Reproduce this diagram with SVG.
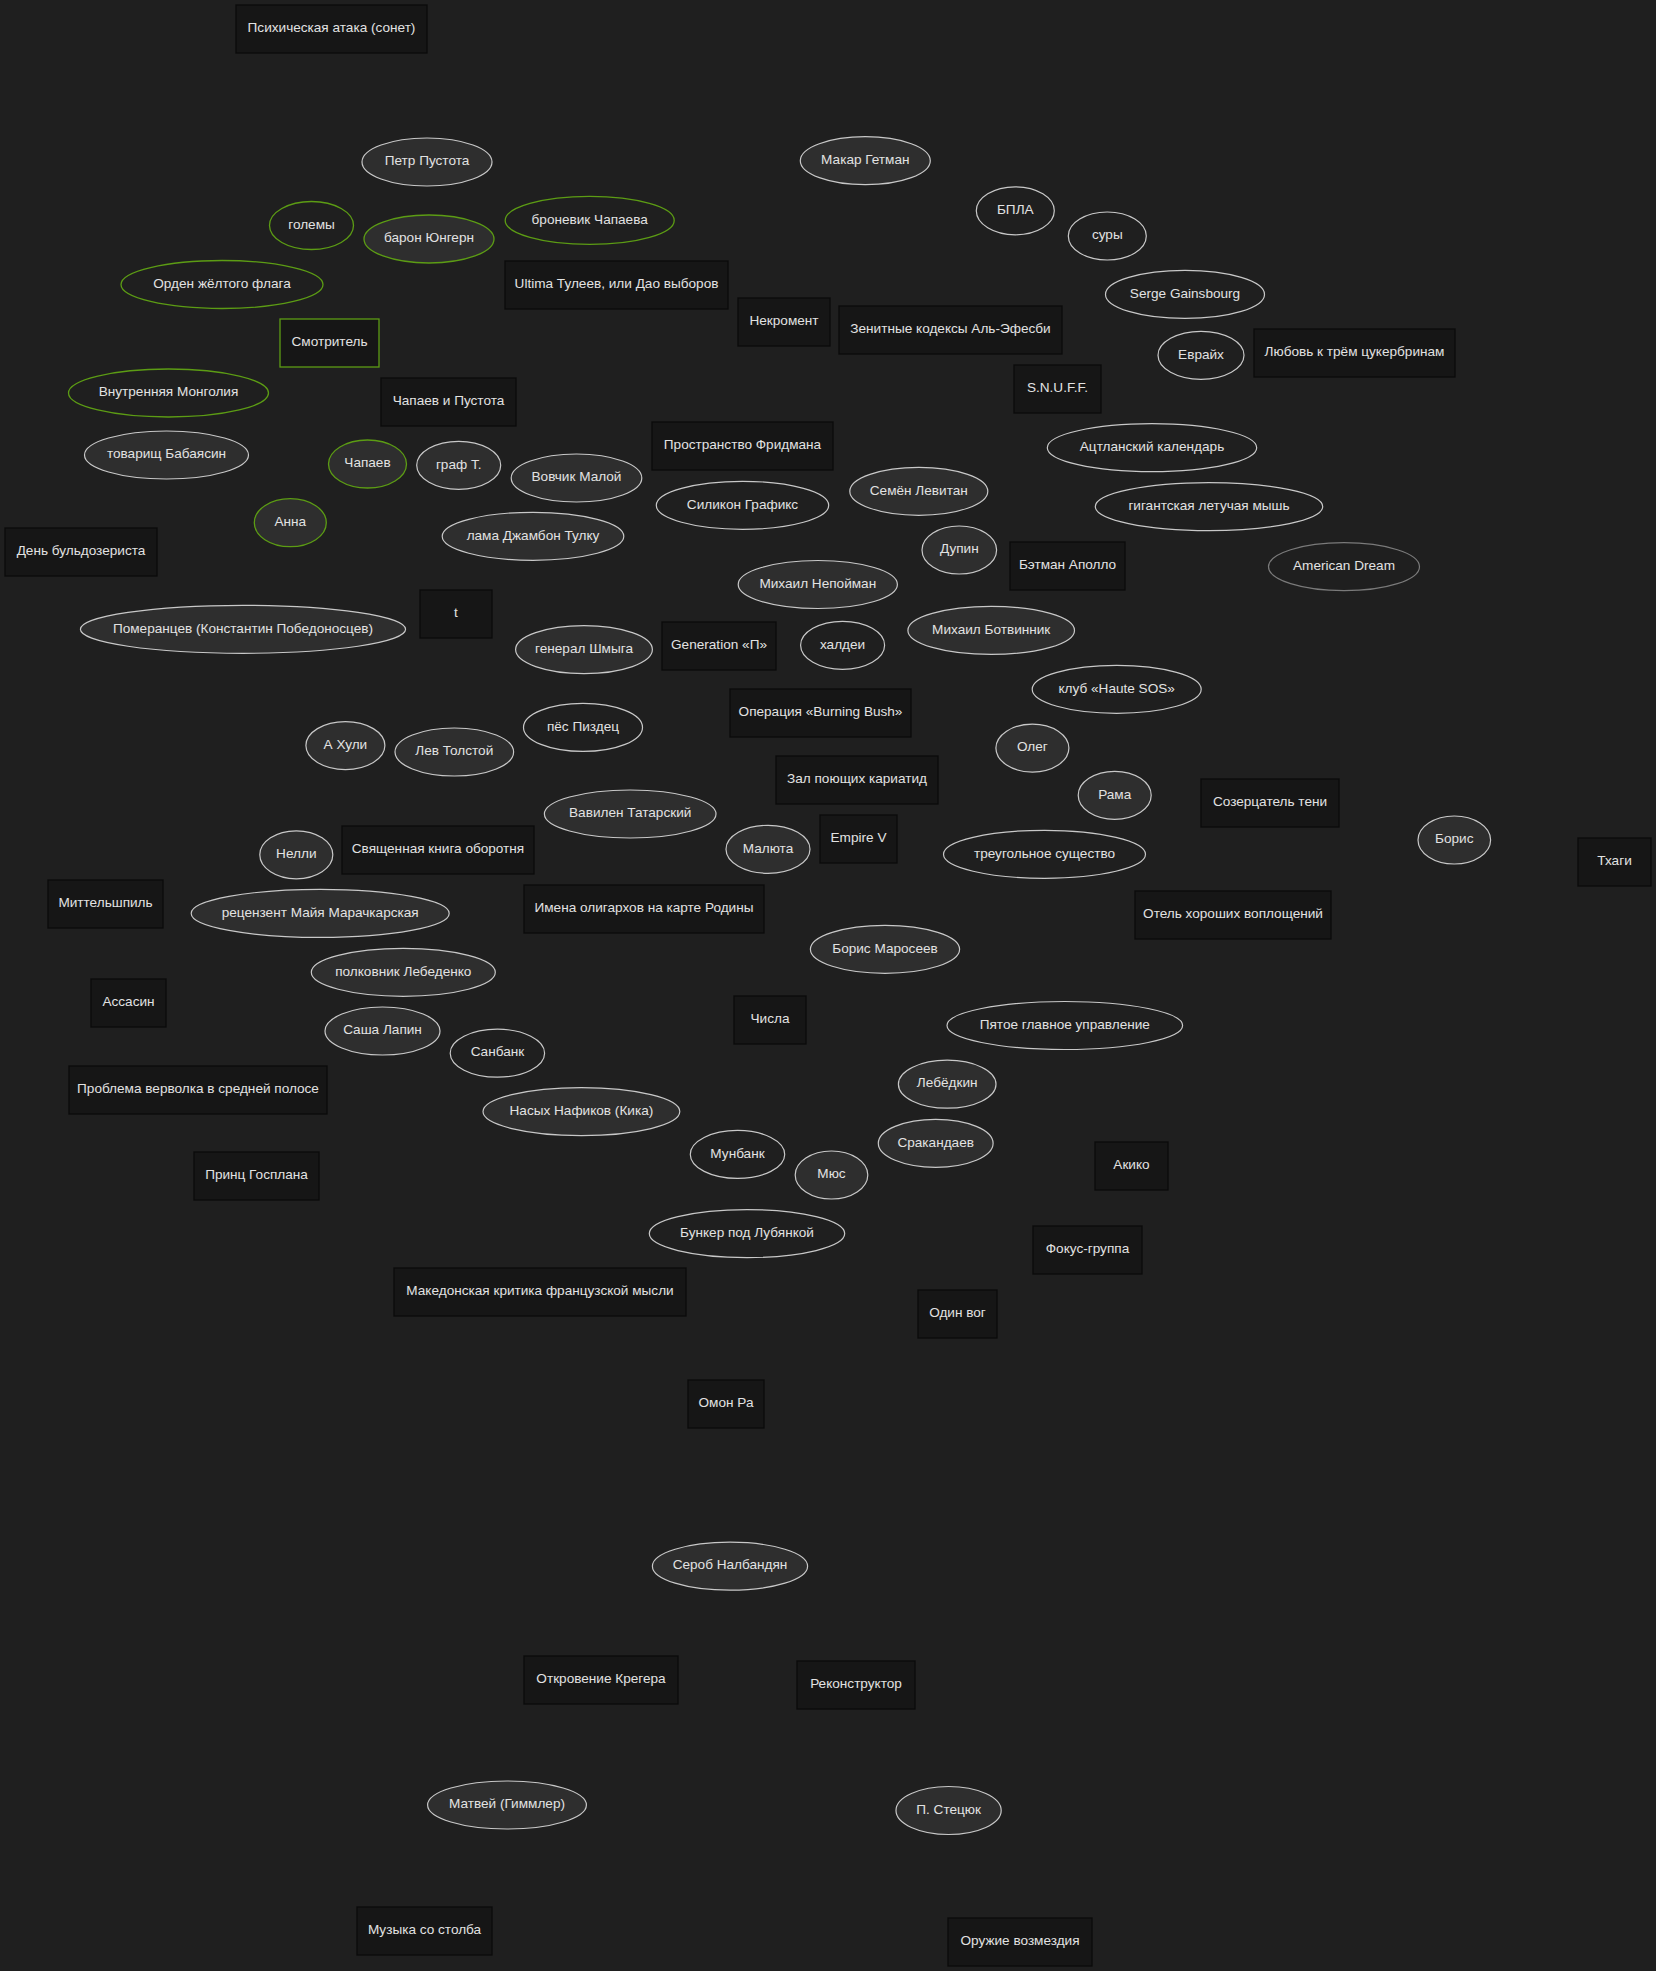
<svg xmlns="http://www.w3.org/2000/svg" width="1656" height="1971" viewBox="0 0 1656 1971">
<style>
.bg{fill:#1f1f1f}
.box{fill:#161616;stroke:#0b0b0b;stroke-width:1.3}
.boxg{fill:#161616;stroke:#5c9c14;stroke-width:1.3}
.ef{fill:#2e2e2e;stroke:#c8c8c8;stroke-width:1.2}
.eo{fill:none;stroke:#c8c8c8;stroke-width:1.2}
.efg{fill:#2e2e2e;stroke:#5c9c14;stroke-width:1.3}
.eog{fill:none;stroke:#5c9c14;stroke-width:1.3}
.eod{fill:none;stroke:#7a7a7a;stroke-width:1.2}
text{font-family:"Liberation Sans",Arial,sans-serif;font-size:13.6px;fill:#e2e2e2;text-anchor:middle;transform:translateY(-1.2px)}
</style>
<rect class="bg" x="0" y="0" width="1656" height="1971"/>
<g id="edges"></g>
<g id="nodes">
<g id="n1"><rect class="box" x="236" y="5" width="191" height="48"/><text x="331.5" y="33.5">Психическая атака (сонет)</text></g>
<g id="n2"><rect class="boxg" x="280" y="319" width="99" height="48"/><text x="329.5" y="347.5">Смотритель</text></g>
<g id="n3"><rect class="box" x="381" y="378" width="135" height="48"/><text x="448.5" y="406.5">Чапаев и Пустота</text></g>
<g id="n4"><rect class="box" x="5" y="528" width="152" height="48"/><text x="81" y="556.5">День бульдозериста</text></g>
<g id="n5"><rect class="box" x="420" y="590" width="72" height="48"/><text x="456" y="618.5">t</text></g>
<g id="n6"><rect class="box" x="505" y="261" width="223" height="48"/><text x="616.5" y="289.5">Ultima Тулеев, или Дао выборов</text></g>
<g id="n7"><rect class="box" x="738" y="298" width="92" height="48"/><text x="784" y="326.5">Некромент</text></g>
<g id="n8"><rect class="box" x="839" y="306" width="223" height="48"/><text x="950.5" y="334.5">Зенитные кодексы Аль-Эфесби</text></g>
<g id="n9"><rect class="box" x="1014" y="365" width="87" height="48"/><text x="1057.5" y="393.5">S.N.U.F.F.</text></g>
<g id="n10"><rect class="box" x="652" y="422" width="181" height="48"/><text x="742.5" y="450.5">Пространство Фридмана</text></g>
<g id="n11"><rect class="box" x="1010" y="542" width="115" height="48"/><text x="1067.5" y="570.5">Бэтман Аполло</text></g>
<g id="n12"><rect class="box" x="662" y="622" width="114" height="48"/><text x="719" y="650.5">Generation «П»</text></g>
<g id="n13"><rect class="box" x="1254" y="329" width="201" height="48"/><text x="1354.5" y="357.5">Любовь к трём цукербринам</text></g>
<g id="n14"><rect class="box" x="342" y="826" width="192" height="48"/><text x="438" y="854.5">Священная книга оборотня</text></g>
<g id="n15"><rect class="box" x="48" y="880" width="115" height="48"/><text x="105.5" y="908.5">Миттельшпиль</text></g>
<g id="n16"><rect class="box" x="524" y="885" width="240" height="48"/><text x="644" y="913.5">Имена олигархов на карте Родины</text></g>
<g id="n17"><rect class="box" x="91" y="979" width="75" height="48"/><text x="128.5" y="1007.5">Ассасин</text></g>
<g id="n18"><rect class="box" x="69" y="1066" width="258" height="48"/><text x="198" y="1094.5">Проблема верволка в средней полосе</text></g>
<g id="n19"><rect class="box" x="194" y="1152" width="125" height="48"/><text x="256.5" y="1180.5">Принц Госплана</text></g>
<g id="n20"><rect class="box" x="394" y="1268" width="292" height="48"/><text x="540" y="1296.5">Македонская критика французской мысли</text></g>
<g id="n21"><rect class="box" x="730" y="689" width="181" height="48"/><text x="820.5" y="717.5">Операция «Burning Bush»</text></g>
<g id="n22"><rect class="box" x="776" y="756" width="162" height="48"/><text x="857" y="784.5">Зал поющих кариатид</text></g>
<g id="n23"><rect class="box" x="820" y="815" width="77" height="48"/><text x="858.5" y="843.5">Empire V</text></g>
<g id="n24"><rect class="box" x="734" y="996" width="72" height="48"/><text x="770" y="1024.5">Числа</text></g>
<g id="n25"><rect class="box" x="1095" y="1142" width="73" height="48"/><text x="1131.5" y="1170.5">Акико</text></g>
<g id="n26"><rect class="box" x="1033" y="1226" width="109" height="48"/><text x="1087.5" y="1254.5">Фокус-группа</text></g>
<g id="n27"><rect class="box" x="918" y="1290" width="79" height="48"/><text x="957.5" y="1318.5">Один вог</text></g>
<g id="n28"><rect class="box" x="1201" y="779" width="138" height="48"/><text x="1270" y="807.5">Созерцатель тени</text></g>
<g id="n29"><rect class="box" x="1578" y="838" width="73" height="48"/><text x="1614.5" y="866.5">Тхаги</text></g>
<g id="n30"><rect class="box" x="1135" y="891" width="196" height="48"/><text x="1233" y="919.5">Отель хороших воплощений</text></g>
<g id="n31"><rect class="box" x="524" y="1656" width="154" height="48"/><text x="601" y="1684.5">Откровение Крегера</text></g>
<g id="n32"><rect class="box" x="357" y="1907" width="135" height="48"/><text x="424.5" y="1935.5">Музыка со столба</text></g>
<g id="n33"><rect class="box" x="688" y="1380" width="76" height="48"/><text x="726" y="1408.5">Омон Ра</text></g>
<g id="n34"><rect class="box" x="797" y="1661" width="118" height="48"/><text x="856" y="1689.5">Реконструктор</text></g>
<g id="n35"><rect class="box" x="948" y="1918" width="144" height="48"/><text x="1020" y="1946.5">Оружие возмездия</text></g>

<g id="n36"><ellipse class="ef" cx="427" cy="162" rx="65" ry="24"/><text x="427" y="166.5">Петр Пустота</text></g>
<g id="n37"><ellipse class="eog" cx="311.5" cy="225.5" rx="42" ry="24"/><text x="311.5" y="230">големы</text></g>
<g id="n38"><ellipse class="efg" cx="429" cy="239" rx="65" ry="24"/><text x="429" y="243.5">барон Юнгерн</text></g>
<g id="n39"><ellipse class="eog" cx="222" cy="284.5" rx="101" ry="24"/><text x="222" y="289">Орден жёлтого флага</text></g>
<g id="n40"><ellipse class="eog" cx="168.5" cy="393" rx="100" ry="24"/><text x="168.5" y="397.5">Внутренняя Монголия</text></g>
<g id="n41"><ellipse class="ef" cx="166.5" cy="455" rx="82" ry="24"/><text x="166.5" y="459.5">товарищ Бабаясин</text></g>
<g id="n42"><ellipse class="efg" cx="367.5" cy="464" rx="39" ry="24"/><text x="367.5" y="468.5">Чапаев</text></g>
<g id="n43"><ellipse class="ef" cx="458.7" cy="465.3" rx="42" ry="24"/><text x="458.7" y="469.8">граф Т.</text></g>
<g id="n44"><ellipse class="efg" cx="290.3" cy="522.7" rx="36" ry="24"/><text x="290.3" y="527.2">Анна</text></g>
<g id="n45"><ellipse class="ef" cx="243" cy="629.3" rx="162.6" ry="24"/><text x="243" y="633.8">Померанцев (Константин Победоносцев)</text></g>
<g id="n46"><ellipse class="ef" cx="865.3" cy="160.7" rx="65" ry="24"/><text x="865.3" y="165.2">Макар Гетман</text></g>
<g id="n47"><ellipse class="eog" cx="589.7" cy="220.4" rx="84.5" ry="24"/><text x="589.7" y="224.9">броневик Чапаева</text></g>
<g id="n48"><ellipse class="eo" cx="1015.3" cy="210.8" rx="39" ry="24"/><text x="1015.3" y="215.3">БПЛА</text></g>
<g id="n49"><ellipse class="eo" cx="1107.3" cy="236" rx="39" ry="24"/><text x="1107.3" y="240.5">суры</text></g>
<g id="n50"><ellipse class="eo" cx="1152" cy="447.7" rx="104.7" ry="24"/><text x="1152" y="452.2">Ацтланский календарь</text></g>
<g id="n51"><ellipse class="ef" cx="576.5" cy="478" rx="65.3" ry="24"/><text x="576.5" y="482.5">Вовчик Малой</text></g>
<g id="n52"><ellipse class="eo" cx="742.5" cy="505.3" rx="86.2" ry="24"/><text x="742.5" y="509.8">Силикон Графикс</text></g>
<g id="n53"><ellipse class="ef" cx="918.8" cy="491.3" rx="69" ry="24"/><text x="918.8" y="495.8">Семён Левитан</text></g>
<g id="n54"><ellipse class="ef" cx="533" cy="536.3" rx="90.8" ry="24"/><text x="533" y="540.8">лама Джамбон Тулку</text></g>
<g id="n55"><ellipse class="eo" cx="1209" cy="506.6" rx="113.7" ry="24"/><text x="1209" y="511.1">гигантская летучая мышь</text></g>
<g id="n56"><ellipse class="ef" cx="959.3" cy="550" rx="37.3" ry="24"/><text x="959.3" y="554.5">Дупин</text></g>
<g id="n57"><ellipse class="eod" cx="1344" cy="566.7" rx="75.5" ry="24"/><text x="1344" y="571.2">American Dream</text></g>
<g id="n58"><ellipse class="ef" cx="817.8" cy="584.5" rx="79.6" ry="24"/><text x="817.8" y="589">Михаил Непойман</text></g>
<g id="n59"><ellipse class="ef" cx="991.2" cy="630.4" rx="83.3" ry="24"/><text x="991.2" y="634.9">Михаил Ботвинник</text></g>
<g id="n60"><ellipse class="ef" cx="584" cy="649.6" rx="68.4" ry="24"/><text x="584" y="654.1">генерал Шмыга</text></g>
<g id="n61"><ellipse class="eo" cx="842.6" cy="645.3" rx="42" ry="24"/><text x="842.6" y="649.8">халдеи</text></g>
<g id="n62"><ellipse class="eo" cx="1185" cy="294.4" rx="79.5" ry="24"/><text x="1185" y="298.9">Serge Gainsbourg</text></g>
<g id="n63"><ellipse class="eo" cx="1201" cy="355.3" rx="43" ry="24"/><text x="1201" y="359.8">Еврайх</text></g>
<g id="n64"><ellipse class="ef" cx="345.4" cy="745.6" rx="39.5" ry="24"/><text x="345.4" y="750.1">А Хули</text></g>
<g id="n65"><ellipse class="ef" cx="454.3" cy="752" rx="59.3" ry="24"/><text x="454.3" y="756.5">Лев Толстой</text></g>
<g id="n66"><ellipse class="eo" cx="583" cy="727.4" rx="59.5" ry="24"/><text x="583" y="731.9">пёс Пиздец</text></g>
<g id="n67"><ellipse class="ef" cx="296.3" cy="854.8" rx="36.5" ry="24"/><text x="296.3" y="859.3">Нелли</text></g>
<g id="n68"><ellipse class="ef" cx="320.2" cy="913.4" rx="129" ry="24"/><text x="320.2" y="917.9">рецензент Майя Марачкарская</text></g>
<g id="n69"><ellipse class="ef" cx="403.3" cy="972.3" rx="92" ry="24"/><text x="403.3" y="976.8">полковник Лебеденко</text></g>
<g id="n70"><ellipse class="ef" cx="382.5" cy="1031" rx="57.5" ry="24"/><text x="382.5" y="1035.5">Саша Лапин</text></g>
<g id="n71"><ellipse class="eo" cx="497.4" cy="1053.2" rx="47.2" ry="24"/><text x="497.4" y="1057.7">Санбанк</text></g>
<g id="n72"><ellipse class="ef" cx="581.4" cy="1111.6" rx="98.4" ry="24"/><text x="581.4" y="1116.1">Насых Нафиков (Кика)</text></g>
<g id="n73"><ellipse class="eo" cx="1116.7" cy="689.3" rx="84.5" ry="24"/><text x="1116.7" y="693.8">клуб «Haute SOS»</text></g>
<g id="n74"><ellipse class="ef" cx="1032.4" cy="748.1" rx="36.5" ry="24"/><text x="1032.4" y="752.6">Олег</text></g>
<g id="n75"><ellipse class="ef" cx="1114.7" cy="795.3" rx="36.5" ry="24"/><text x="1114.7" y="799.8">Рама</text></g>
<g id="n76"><ellipse class="ef" cx="630.2" cy="814" rx="85.8" ry="24"/><text x="630.2" y="818.5">Вавилен Татарский</text></g>
<g id="n77"><ellipse class="ef" cx="768" cy="849.3" rx="42" ry="24"/><text x="768" y="853.8">Малюта</text></g>
<g id="n78"><ellipse class="eo" cx="1044.5" cy="854.3" rx="101" ry="24"/><text x="1044.5" y="858.8">треугольное существо</text></g>
<g id="n79"><ellipse class="ef" cx="885" cy="949.3" rx="74.6" ry="24"/><text x="885" y="953.8">Борис Маросеев</text></g>
<g id="n80"><ellipse class="eo" cx="1064.8" cy="1025.5" rx="117.8" ry="24"/><text x="1064.8" y="1030">Пятое главное управление</text></g>
<g id="n81"><ellipse class="ef" cx="947.2" cy="1084.2" rx="48.8" ry="24"/><text x="947.2" y="1088.7">Лебёдкин</text></g>
<g id="n82"><ellipse class="eo" cx="737.5" cy="1154.4" rx="47.2" ry="24"/><text x="737.5" y="1158.9">Мунбанк</text></g>
<g id="n83"><ellipse class="ef" cx="831.5" cy="1175" rx="36.3" ry="24"/><text x="831.5" y="1179.5">Мюс</text></g>
<g id="n84"><ellipse class="ef" cx="935.7" cy="1143.3" rx="57.4" ry="24"/><text x="935.7" y="1147.8">Сракандаев</text></g>
<g id="n85"><ellipse class="eo" cx="747" cy="1233.6" rx="97.7" ry="24"/><text x="747" y="1238.1">Бункер под Лубянкой</text></g>
<g id="n86"><ellipse class="ef" cx="1454.3" cy="840" rx="36.3" ry="24"/><text x="1454.3" y="844.5">Борис</text></g>
<g id="n87"><ellipse class="ef" cx="507" cy="1805" rx="79.4" ry="24"/><text x="507" y="1809.5">Матвей (Гиммлер)</text></g>
<g id="n88"><ellipse class="ef" cx="730" cy="1566.2" rx="77.6" ry="24"/><text x="730" y="1570.7">Сероб Налбандян</text></g>
<g id="n89"><ellipse class="ef" cx="948.6" cy="1810.5" rx="52.6" ry="24"/><text x="948.6" y="1815">П. Стецюк</text></g>
</g>
</svg>
